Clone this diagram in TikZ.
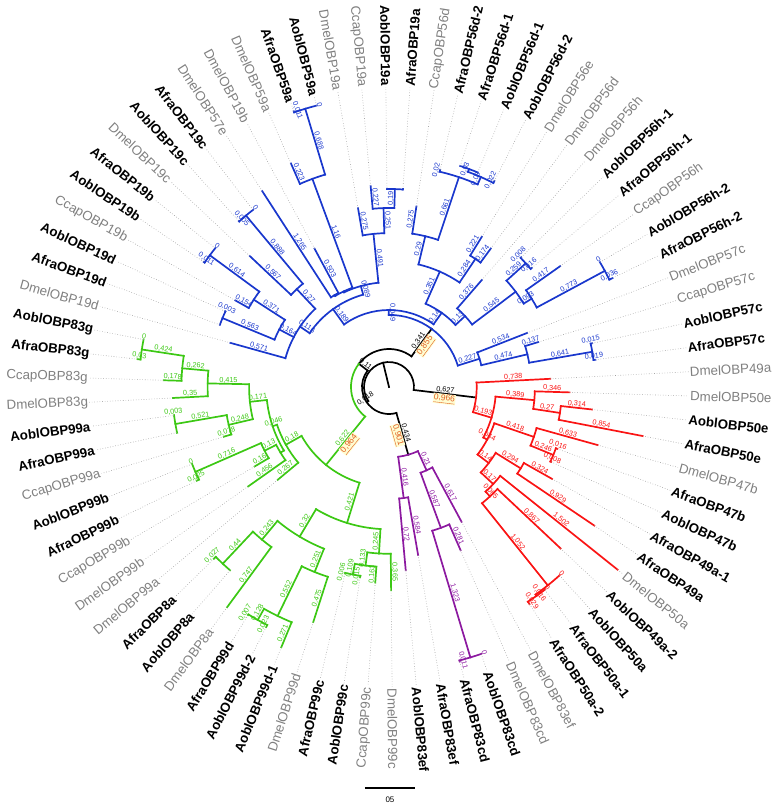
\documentclass[tikz,border=0pt]{standalone}
\usepackage{fontspec}
\setmainfont{Liberation Sans}

\definecolor{cblue}{RGB}{25,55,205}
\definecolor{cred}{RGB}{250,20,20}
\definecolor{cgreen}{RGB}{60,200,20}
\definecolor{cpurp}{RGB}{140,25,160}
\definecolor{cgray}{RGB}{128,128,128}
\definecolor{cboot}{RGB}{225,95,35}

\newcounter{bl}
% rotation that keeps a text readable along a ray
\newcommand\setrot[1]{\pgfmathparse{cos(#1)}%
  \ifdim\pgfmathresult pt<0pt\pgfmathsetmacro\rrot{#1+180}\else\def\rrot{#1}\fi}
% branch with its length: colour, angle, r from, r to, text
\newcommand\br[5]{\draw[branch, #1] (#2:#3pt) -- (#2:#4pt);
  \pgfmathsetmacro\bmid{(#3+#4)/2}\setrot{#2}\stepcounter{bl}%
  \node[blen, text=#1, rotate=\rrot] (b\thebl) at (#2:\bmid pt) {#5};}
% branch with no text
\newcommand\bn[4]{\draw[branch, #1] (#2:#3pt) -- (#2:#4pt);}
% bootstrap value under a branch
\newcommand\bs[4]{\pgfmathsetmacro\bmid{(#2+#3)/2}\setrot{#1}\stepcounter{bl}%
  \node[boot, rotate=\rrot] (b\thebl) at (#1:\bmid pt) {\underline{#4}};}
% arc of an inner node: colour, radius, from, to
\newcommand\ac[4]{\draw[branch, #1] (#3:#2pt) arc[start angle=#3, end angle=#4, radius=#2pt];}
% taxon: angle, tip radius, name, style
\newcommand\lf[4]{\pgfmathparse{cos(#1)}%
  \ifdim\pgfmathresult pt<0pt
    \pgfmathsetmacro\lrot{#1+180}%
    \node[#4, rotate=\lrot, anchor=east] (#3) at (#1:300pt) {#3};
  \else
    \node[#4, rotate=#1, anchor=west] (#3) at (#1:300pt) {#3};
  \fi
  \draw[leafdot] (#1:#2pt) -- (#3);}

\begin{document}
\begin{tikzpicture}[x=1pt, y=1pt,
    branch/.style={line width=1.7pt, line cap=rect},
    leafdot/.style={dotted, line width=0.6pt, gray!75},
    blen/.style={font=\fontsize{7.3}{8}\selectfont, inner sep=0.5pt, anchor=south},
    boot/.style={font=\fontsize{8.5}{9}\selectfont, text=cboot, fill=yellow!18, inner sep=0.6pt, anchor=north},
    taxb/.style={font=\fontsize{13.3}{15}\selectfont\bfseries, inner sep=1.2pt},
    taxg/.style={font=\fontsize{13.3}{15}\selectfont, text=cgray, inner sep=1.2pt}]
\useasboundingbox (-389,-419) rectangle (389,387);

% Root and black backbone
\coordinate (O) at (0,0);
\draw[branch] (O) -- (103.64:25pt);
\ac{black}{25}{-6.88}{214.15}
\br{black}{-6.88}{25}{87.7}{0,627}
\bs{-6.88}{25}{87.7}{0,966}
\br{black}{214.15}{25}{27}{0,018}
\ac{black}{27}{142.40}{285.89}
\br{black}{-74.11}{27}{70.4}{0,434}
\bs{-74.11}{27}{70.4}{0,901}
\br{black}{142.40}{27}{38}{0,11}
\ac{black}{38}{53.75}{142.40}
\ac{cgreen}{38}{142.40}{231.04}
\br{black}{53.75}{38}{72.1}{0,341}
\bs{53.75}{38}{72.1}{0,855}
\br{cgreen}{231.04}{38}{100.2}{0,622}
\bs{231.04}{38}{100.2}{0,964}

% Red clade
\ac{cred}{87.7}{-16.67}{2.91}
\br{cred}{2.91}{87.7}{161.5}{0,738} \lf{2.91}{161.5}{DmelOBP49a}{taxg}
\br{cred}{-16.67}{87.7}{107.0}{0,193}
\ac{cred}{107.0}{-28.17}{-5.17}
\br{cred}{-5.17}{107.0}{145.9}{0,389}
\ac{cred}{145.9}{-8.63}{-1.71}
\br{cred}{-1.71}{145.9}{180.5}{0,346} \lf{-1.71}{180.5}{DmelOBP50e}{taxg}
\br{cred}{-8.63}{145.9}{172.9}{0,27}
\ac{cred}{172.9}{-10.94}{-6.32}
\br{cred}{-6.32}{172.9}{204.3}{0,314} \lf{-6.32}{204.3}{AoblOBP50e}{taxb}
\br{cred}{-10.94}{172.9}{258.3}{0,854} \lf{-10.94}{258.3}{AfraOBP50e}{taxb}
\br{cred}{-28.17}{107.0}{111.4}{0,044}
\ac{cred}{111.4}{-37.33}{-19.01}
\br{cred}{-19.01}{111.4}{153.2}{0,418}
\ac{cred}{153.2}{-22.48}{-15.55}
\br{cred}{-15.55}{153.2}{216.5}{0,633} \lf{-15.55}{216.5}{DmelOBP47b}{taxg}
\br{cred}{-22.48}{153.2}{177.8}{0,246}
\ac{cred}{177.8}{-24.78}{-20.17}
\br{cred}{-20.17}{177.8}{179.4}{0,016} \lf{-20.17}{179.4}{AfraOBP47b}{taxb}
\br{cred}{-24.78}{177.8}{178.6}{0,008} \lf{-24.78}{178.6}{AoblOBP47b}{taxb}
\br{cred}{-37.33}{111.4}{125.4}{0,14}
\ac{cred}{125.4}{-42.96}{-31.71}
\br{cred}{-31.71}{125.4}{154.8}{0,294}
\ac{cred}{154.8}{-34.02}{-29.40}
\br{cred}{-29.40}{154.8}{187.2}{0,324} \lf{-29.40}{187.2}{AfraOBP49a-1}{taxb}
\br{cred}{-34.02}{154.8}{247.7}{0,929} \lf{-34.02}{247.7}{AfraOBP49a}{taxb}
\br{cred}{-42.96}{125.4}{142.4}{0,17}
\ac{cred}{142.4}{-47.29}{-38.63}
\br{cred}{-38.63}{142.4}{292.6}{1,502} \lf{-38.63}{292.6}{DmelOBP50a}{taxg}
\br{cred}{-47.29}{142.4}{148.9}{0,065}
\ac{cred}{148.9}{-51.32}{-43.25}
\br{cred}{-43.25}{148.9}{235.6}{0,867} \lf{-43.25}{235.6}{AoblOBP49a-2}{taxb}
\br{cred}{-51.32}{148.9}{254.1}{1,052}
\ac{cred}{254.1}{-54.78}{-47.86}
\br{cred}{-47.86}{254.1}{254.1}{0} \lf{-47.86}{254.1}{AoblOBP50a}{taxb}
\br{cred}{-54.78}{254.1}{255.7}{0,016}
\ac{cred}{255.7}{-57.09}{-52.48}
\br{cred}{-52.48}{255.7}{255.7}{0} \lf{-52.48}{255.7}{AfraOBP50a-1}{taxb}
\br{cred}{-57.09}{255.7}{258.6}{0,029} \lf{-57.09}{258.6}{AfraOBP50a-2}{taxb}

% Purple clade
\ac{cpurp}{70.4}{-82.47}{-65.75}
\br{cpurp}{-82.47}{70.4}{112.0}{0,416}
\ac{cpurp}{112.0}{-84.78}{-80.17}
\br{cpurp}{-80.17}{112.0}{170.4}{0,584} \lf{-80.17}{170.4}{AfraOBP83ef}{taxb}
\br{cpurp}{-84.78}{112.0}{184.0}{0,72} \lf{-84.78}{184.0}{AoblOBP83ef}{taxb}
\br{cpurp}{-65.75}{70.4}{91.4}{0,21}
\ac{cpurp}{91.4}{-69.78}{-61.71}
\br{cpurp}{-61.71}{91.4}{153.1}{0,617} \lf{-61.71}{153.1}{DmelOBP83ef}{taxg}
\br{cpurp}{-69.78}{91.4}{150.1}{0,587}
\ac{cpurp}{150.1}{-73.25}{-66.32}
\br{cpurp}{-66.32}{150.1}{178.2}{0,281} \lf{-66.32}{178.2}{DmelOBP83cd}{taxg}
\br{cpurp}{-73.25}{150.1}{282.4}{1,323}
\ac{cpurp}{282.4}{-75.55}{-70.94}
\br{cpurp}{-70.94}{282.4}{282.4}{0} \lf{-70.94}{282.4}{AoblOBP83cd}{taxb}
\br{cpurp}{-75.55}{282.4}{283.5}{0,011} \lf{-75.55}{283.5}{AfraOBP83cd}{taxb}

% Green clade
\ac{cgreen}{100.2}{-150.77}{-107.14}
\br{cgreen}{-107.14}{100.2}{142.3}{0,421}
\ac{cgreen}{142.3}{-120.84}{-93.44}
\br{cgreen}{-93.44}{142.3}{166.8}{0,245}
\ac{cgreen}{166.8}{-97.48}{-89.40}
\br{cgreen}{-89.40}{166.8}{203.3}{0,365} \lf{-89.40}{203.3}{DmelOBP99c}{taxg}
\br{cgreen}{-97.48}{166.8}{180.1}{0,133}
\ac{cgreen}{180.1}{-100.94}{-94.02}
\br{cgreen}{-94.02}{180.1}{196.1}{0,163} \lf{-94.02}{196.1}{CcapOBP99c}{taxg}
\br{cgreen}{-100.94}{180.1}{191.0}{0,109}
\ac{cgreen}{191.0}{-103.25}{-98.63}
\br{cgreen}{-98.63}{191.0}{192.5}{0,015} \lf{-98.63}{192.5}{AoblOBP99c}{taxb}
\br{cgreen}{-103.25}{191.0}{191.6}{0,006} \lf{-103.25}{191.6}{AfraOBP99c}{taxb}
\br{cgreen}{-120.84}{142.3}{174.3}{0,32}
\ac{cgreen}{174.3}{-129.78}{-111.90}
\br{cgreen}{-111.90}{174.3}{199.4}{0,251}
\ac{cgreen}{199.4}{-115.94}{-107.86}
\br{cgreen}{-107.86}{199.4}{246.9}{0,475} \lf{-107.86}{246.9}{DmelOBP99d}{taxg}
\br{cgreen}{-115.94}{199.4}{254.6}{0,552}
\ac{cgreen}{254.6}{-119.40}{-112.48}
\br{cgreen}{-112.48}{254.6}{281.7}{0,271} \lf{-112.48}{281.7}{AoblOBP99d-1}{taxb}
\br{cgreen}{-119.40}{254.6}{267.4}{0,128}
\ac{cgreen}{267.4}{-121.71}{-117.09}
\br{cgreen}{-117.09}{267.4}{269.7}{0,023} \lf{-117.09}{269.7}{AoblOBP99d-2}{taxb}
\br{cgreen}{-121.71}{267.4}{268.1}{0,007} \lf{-121.71}{268.1}{AfraOBP99d}{taxb}
\br{cgreen}{-129.78}{174.3}{198.6}{0,243}
\ac{cgreen}{198.6}{-133.25}{-126.32}
\br{cgreen}{-126.32}{198.6}{273.3}{0,747} \lf{-126.32}{273.3}{DmelOBP8a}{taxg}
\br{cgreen}{-133.25}{198.6}{242.6}{0,44}
\ac{cgreen}{242.6}{-135.55}{-130.94}
\bn{cgreen}{-130.94}{242.6}{242.6} \lf{-130.94}{242.6}{AoblOBP8a}{taxb}
\br{cgreen}{-135.55}{242.6}{245.3}{0,027} \lf{-135.55}{245.3}{AfraOBP8a}{taxb}
\br{cgreen}{-150.77}{100.2}{118.2}{0,18}
\ac{cgreen}{118.2}{-161.37}{-140.17}
\br{cgreen}{-140.17}{118.2}{144.9}{0,267} \lf{-140.17}{144.9}{DmelOBP99a}{taxg}
\br{cgreen}{-161.37}{118.2}{122.8}{0,046}
\ac{cgreen}{122.8}{-173.92}{-148.82}
\bn{cgreen}{-148.82}{122.8}{126.8}
\ac{cgreen}{126.8}{-152.86}{-144.78}
\br{cgreen}{-144.78}{126.8}{172.4}{0,456} \lf{-144.78}{172.4}{DmelOBP99b}{taxg}
\br{cgreen}{-152.86}{126.8}{139.8}{0,13}
\ac{cgreen}{139.8}{-156.33}{-149.40}
\br{cgreen}{-149.40}{139.8}{156.1}{0,16} \lf{-149.40}{156.1}{CcapOBP99b}{taxg}
\br{cgreen}{-156.33}{139.8}{211.4}{0,716}
\ac{cgreen}{211.4}{-158.63}{-154.02}
\br{cgreen}{-154.02}{211.4}{213.9}{0,025} \lf{-154.02}{213.9}{AfraOBP99b}{taxb}
\br{cgreen}{-158.63}{211.4}{211.4}{0} \lf{-158.63}{211.4}{AoblOBP99b}{taxb}
\br{cgreen}{-173.92}{122.8}{139.9}{0,171}
\ac{cgreen}{139.9}{-181.13}{-166.71}
\br{cgreen}{-166.71}{139.9}{164.7}{0,248}
\ac{cgreen}{164.7}{-170.17}{-163.25}
\br{cgreen}{-163.25}{164.7}{172.5}{0,078} \lf{-163.25}{172.5}{CcapOBP99a}{taxg}
\br{cgreen}{-170.17}{164.7}{216.8}{0,521}
\ac{cgreen}{216.8}{-172.48}{-167.86}
\bn{cgreen}{-167.86}{216.8}{217.0} \lf{-167.86}{217.0}{AfraOBP99a}{taxb}
\br{cgreen}{-172.48}{216.8}{217.1}{0,003} \lf{-172.48}{217.1}{AoblOBP99a}{taxb}
\br{cgreen}{-181.13}{139.9}{181.4}{0,415}
\ac{cgreen}{181.4}{-185.17}{-177.09}
\br{cgreen}{-177.09}{181.4}{216.4}{0,35} \lf{-177.09}{216.4}{DmelOBP83g}{taxg}
\br{cgreen}{-185.17}{181.4}{207.6}{0,262}
\ac{cgreen}{207.6}{-188.63}{-181.71}
\br{cgreen}{-181.71}{207.6}{225.4}{0,178} \lf{-181.71}{225.4}{CcapOBP83g}{taxg}
\br{cgreen}{-188.63}{207.6}{250.0}{0,424}
\ac{cgreen}{250.0}{-190.94}{-186.32}
\br{cgreen}{-186.32}{250.0}{253.0}{0,03} \lf{-186.32}{253.0}{AfraOBP83g}{taxb}
\br{cgreen}{-190.94}{250.0}{250.0}{0} \lf{-190.94}{250.0}{AoblOBP83g}{taxb}

% Blue clade: 57c group
\ac{cblue}{72.1}{17.33}{90.17}
\br{cblue}{17.33}{72.1}{94.8}{0,227}
\ac{cblue}{94.8}{13.29}{21.37}
\br{cblue}{21.37}{94.8}{148.2}{0,534} \lf{21.37}{148.2}{DmelOBP57c}{taxg}
\br{cblue}{13.29}{94.8}{142.2}{0,474}
\ac{cblue}{142.2}{9.83}{16.75}
\br{cblue}{16.75}{142.2}{155.9}{0,137} \lf{16.75}{155.9}{CcapOBP57c}{taxg}
\br{cblue}{9.83}{142.2}{206.3}{0,641}
\ac{cblue}{206.3}{7.52}{12.14}
\br{cblue}{12.14}{206.3}{207.8}{0,015} \lf{12.14}{207.8}{AoblOBP57c}{taxb}
\br{cblue}{7.52}{206.3}{208.2}{0,019} \lf{7.52}{208.2}{AfraOBP57c}{taxb}
\br{cblue}{90.17}{72.1}{77.0}{0,049}
\ac{cblue}{77.0}{54.62}{125.72}

% Blue clade: 56 group
\br{cblue}{54.62}{77.0}{91.0}{0,14}
\ac{cblue}{91.0}{43.01}{66.23}
\br{cblue}{66.23}{91.0}{126.1}{0,351}
\ac{cblue}{126.1}{55.99}{76.47}
\br{cblue}{76.47}{126.1}{155.1}{0,29}
\ac{cblue}{155.1}{71.56}{81.37}
\br{cblue}{81.37}{155.1}{182.6}{0,275} \lf{81.37}{182.6}{CcapOBP56d}{taxg}
\br{cblue}{71.56}{155.1}{221.2}{0,661}
\ac{cblue}{221.2}{66.37}{76.75}
\br{cblue}{76.75}{221.2}{223.2}{0,02} \lf{76.75}{223.2}{AfraOBP56d-2}{taxb}
\br{cblue}{66.37}{221.2}{229.2}{0,08}
\ac{cblue}{229.2}{62.91}{69.83}
\br{cblue}{69.83}{229.2}{232.2}{0,03}
\ac{cblue}{232.2}{67.52}{72.14}
\bn{cblue}{72.14}{232.2}{232.2} \lf{72.14}{232.2}{AfraOBP56d-1}{taxb}
\bn{cblue}{67.52}{232.2}{232.2} \lf{67.52}{232.2}{AoblOBP56d-1}{taxb}
\br{cblue}{62.91}{229.2}{231.4}{0,022} \lf{62.91}{231.4}{AoblOBP56d-2}{taxb}
\br{cblue}{55.99}{126.1}{154.5}{0,284}
\ac{cblue}{154.5}{53.68}{58.29}
\br{cblue}{58.29}{154.5}{176.6}{0,221} \lf{58.29}{176.6}{DmelOBP56e}{taxg}
\br{cblue}{53.68}{154.5}{171.9}{0,174} \lf{53.68}{171.9}{DmelOBP56d}{taxg}
\br{cblue}{43.01}{91.0}{104.0}{0,13}
\ac{cblue}{104.0}{36.95}{49.06}
\br{cblue}{49.06}{104.0}{141.6}{0,376} \lf{49.06}{141.6}{DmelOBP56h}{taxg}
\br{cblue}{36.95}{104.0}{158.5}{0,545}
\ac{cblue}{158.5}{31.76}{42.14}
\br{cblue}{42.14}{158.5}{184.4}{0,259}
\ac{cblue}{184.4}{39.83}{44.45}
\br{cblue}{44.45}{184.4}{185.2}{0,008} \lf{44.45}{185.2}{AoblOBP56h-1}{taxb}
\br{cblue}{39.83}{184.4}{186.0}{0,016} \lf{39.83}{186.0}{AfraOBP56h-1}{taxb}
\br{cblue}{31.76}{158.5}{167.8}{0,093}
\ac{cblue}{167.8}{28.29}{35.22}
\br{cblue}{35.22}{167.8}{209.5}{0,417} \lf{35.22}{209.5}{CcapOBP56h}{taxg}
\br{cblue}{28.29}{167.8}{245.1}{0,773}
\ac{cblue}{245.1}{25.98}{30.60}
\br{cblue}{30.60}{245.1}{245.1}{0} \lf{30.60}{245.1}{AoblOBP56h-2}{taxb}
\br{cblue}{25.98}{245.1}{248.7}{0,036} \lf{25.98}{248.7}{AfraOBP56h-2}{taxb}

% Blue clade: 19 / 59 group
\br{cblue}{125.72}{77.0}{95.9}{0,189}
\ac{cblue}{95.9}{105.60}{145.84}
\br{cblue}{145.84}{95.9}{107.5}{0,116}
\ac{cblue}{107.5}{133.29}{164.45}
\br{cblue}{164.45}{107.5}{164.6}{0,571} \lf{164.45}{164.6}{DmelOBP19d}{taxg}
\br{cblue}{152.33}{107.5}{123.9}{0,164}
\ac{cblue}{123.9}{147.14}{157.52}
\br{cblue}{157.52}{123.9}{180.2}{0,563}
\ac{cblue}{180.2}{155.22}{159.83}
\bn{cblue}{159.83}{180.2}{180.2} \lf{159.83}{180.2}{AfraOBP19d}{taxb}
\br{cblue}{155.22}{180.2}{180.5}{0,003} \lf{155.22}{180.5}{AoblOBP19d}{taxb}
\br{cblue}{147.14}{123.9}{161.0}{0,371}
\ac{cblue}{161.0}{143.67}{150.60}
\br{cblue}{150.60}{161.0}{176.4}{0,154} \lf{150.60}{176.4}{CcapOBP19b}{taxg}
\br{cblue}{143.67}{161.0}{222.4}{0,614}
\ac{cblue}{222.4}{141.37}{145.98}
\br{cblue}{145.98}{222.4}{223.5}{0,011} \lf{145.98}{223.5}{AoblOBP19b}{taxb}
\br{cblue}{141.37}{222.4}{222.4}{0} \lf{141.37}{222.4}{AfraOBP19b}{taxb}
\br{cblue}{133.29}{107.5}{134.5}{0,27}
\ac{cblue}{134.5}{129.83}{136.75}
\br{cblue}{136.75}{134.5}{191.2}{0,567} \lf{136.75}{191.2}{DmelOBP19c}{taxg}
\br{cblue}{129.83}{134.5}{223.3}{0,888}
\ac{cblue}{223.3}{127.52}{132.14}
\br{cblue}{132.14}{223.3}{223.8}{0,005} \lf{132.14}{223.8}{AoblOBP19c}{taxb}
\br{cblue}{127.52}{223.3}{223.3}{0} \lf{127.52}{223.3}{AfraOBP19c}{taxb}
\br{cblue}{105.60}{95.9}{104.8}{0,089}
\ac{cblue}{104.8}{95.79}{115.40}
\bn{cblue}{115.40}{104.8}{105.8}
\ac{cblue}{105.8}{110.21}{120.60}
\bn{cblue}{120.60}{105.8}{106.8}
\ac{cblue}{106.8}{118.29}{122.91}
\br{cblue}{122.91}{106.8}{233.3}{1,265} \lf{122.91}{233.3}{DmelOBP57e}{taxg}
\br{cblue}{118.29}{106.8}{157.1}{0,503} \lf{118.29}{157.1}{DmelOBP19b}{taxg}
\br{cblue}{110.21}{105.8}{221.8}{1,16}
\ac{cblue}{221.8}{106.75}{113.68}
\br{cblue}{113.68}{221.8}{244.1}{0,223} \lf{113.68}{244.1}{DmelOBP59a}{taxg}
\br{cblue}{106.75}{221.8}{290.6}{0,688}
\ac{cblue}{290.6}{104.45}{109.06}
\br{cblue}{109.06}{290.6}{291.7}{0,011} \lf{109.06}{291.7}{AfraOBP59a}{taxb}
\br{cblue}{104.45}{290.6}{290.6}{0} \lf{104.45}{290.6}{AoblOBP59a}{taxb}
\br{cblue}{95.79}{104.8}{153.9}{0,491}
\ac{cblue}{153.9}{91.75}{99.83}
\br{cblue}{99.83}{153.9}{181.4}{0,275} \lf{99.83}{181.4}{DmelOBP19a}{taxg}
\br{cblue}{91.75}{153.9}{179.0}{0,251}
\ac{cblue}{179.0}{88.29}{95.22}
\br{cblue}{95.22}{179.0}{201.7}{0,227} \lf{95.22}{201.7}{CcapOBP19a}{taxg}
\br{cblue}{88.29}{179.0}{198.0}{0,19}
\ac{cblue}{198.0}{85.98}{90.60}
\bn{cblue}{90.60}{198.0}{198.3} \lf{90.60}{198.3}{AoblOBP19a}{taxb}
\bn{cblue}{85.98}{198.0}{198.5} \lf{85.98}{198.5}{AfraOBP19a}{taxb}

% Scale bar
\coordinate (s0) at (-24,-401);
\coordinate (s1) at (26,-401);
\draw[line width=1.5pt] (s0) -- (s1);
\node[font=\fontsize{8}{9}\selectfont] (scl) at (1,-413) {05};
\end{tikzpicture}
\end{document}
